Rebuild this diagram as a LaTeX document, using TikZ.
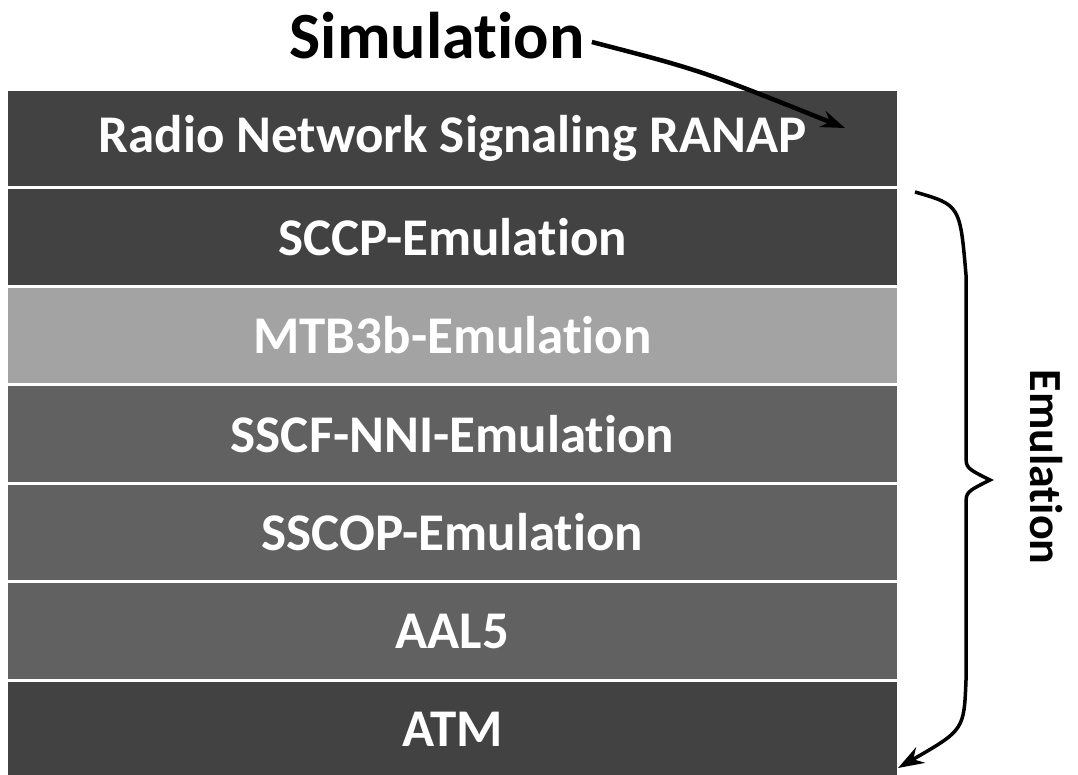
\documentclass[tikz,border=0pt]{standalone}
\usepackage{fontspec}
\setmainfont{Carlito}[Ligatures=NoCommon]
\usetikzlibrary{positioning,arrows.meta}

\tikzset{
  layer/.style={rectangle, minimum width=891pt, minimum height=97pt,
    inner sep=0pt, text=white, font=\bfseries\fontsize{53}{53}\selectfont,
    draw=white, line width=1.5pt},
  darklayer/.style={layer, fill=black!74},
  midlayer/.style={layer, fill=black!62},
  lightlayer/.style={layer, fill=black!36},
  callout/.style={black, font=\bfseries\fontsize{66}{66}\selectfont}
}

\begin{document}
\begin{tikzpicture}[x=1pt, y=-1pt]
    \useasboundingbox (0,0) rectangle (1078,774);

    % Protocol stack
    \node[darklayer] (ranap) at (452.5,138.5) {Radio Network Signaling RANAP};
    \node[darklayer, below=0pt of ranap] (sccp) {SCCP-Emulation};
    \node[lightlayer, below=0pt of sccp] (mtb) {MTB3b-Emulation};
    \node[midlayer, below=0pt of mtb] (sscf) {SSCF-NNI-Emulation};
    \node[midlayer, below=0pt of sscf] (sscop) {SSCOP-Emulation};
    \node[midlayer, below=0pt of sscop] (aal) {AAL5};
    \node[darklayer, below=0pt of aal] (atm) {ATM};

    % Simulation label and arrow
    \node[callout] (sim) at (437,36) {Simulation};
    \coordinate (simend) at (845,128);
    \draw[line width=4.5pt, -{Stealth[length=24pt, width=17pt]}]
        (sim.east) ++(4,6) coordinate (simstart)
        (simstart) .. controls (700,70) .. (simend);

    % Emulation brace
    \coordinate (btop) at (915,192);
    \coordinate (btip) at (990,480);
    \coordinate (bend) at (898,768);
    \draw[line width=3.5pt, -{Stealth[length=26pt, width=18pt]}]
        (btop) .. controls (960,205) .. (966,275)
        -- (966,455) .. controls (966,468) .. (btip)
        .. controls (966,492) .. (966,505)
        -- (966,680) .. controls (964,730) .. (bend);
    \node[callout, font=\bfseries\fontsize{46}{46}\selectfont, rotate=-90] (emu) at (1046,467) {Emulation};
\end{tikzpicture}
\end{document}
